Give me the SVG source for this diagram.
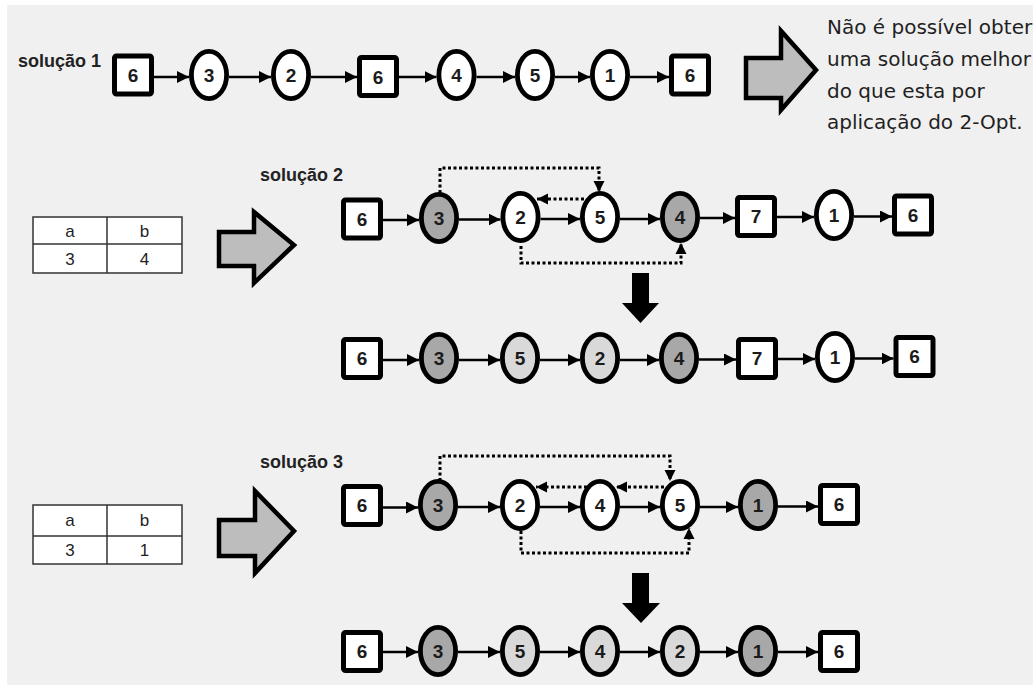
<svg xmlns="http://www.w3.org/2000/svg" width="1033" height="685" viewBox="0 0 1033 685">
<style>
.bg{fill:#f0f0f0}
.c{fill:#fff;stroke:#000;stroke-width:4.8}
.c.dk{fill:#a8a8a8}
.c.lt{fill:#d9d9d9}
.b{fill:#fff;stroke:#000;stroke-width:5}
.n{font-family:"Liberation Sans",Arial,sans-serif;font-weight:bold;font-size:19px;text-anchor:middle;fill:#1b1b1b}
.e{stroke:#000;stroke-width:2.5;fill:none;marker-end:url(#ah)}
.d{stroke:#000;stroke-width:3;fill:none;stroke-dasharray:3 2.5;marker-end:url(#dh)}
.blk{fill:#bdbdbd;stroke:#000;stroke-width:4.5;stroke-linejoin:miter}
.down{fill:#000}
.lbl{font-family:"Liberation Sans",Arial,sans-serif;font-weight:bold;font-size:18px;fill:#222}
.note{font-family:"DejaVu Sans",sans-serif;font-size:20px;fill:#1f1f1f}
.tb{fill:#fff;stroke:#333;stroke-width:1.5}
.tl{stroke:#333;stroke-width:1.5}
.tt{font-family:"Liberation Sans",Arial,sans-serif;font-size:17px;text-anchor:middle;fill:#1f1f1f}
</style>
<defs>
<marker id="ah" markerUnits="userSpaceOnUse" markerWidth="12" markerHeight="12" refX="12" refY="6" orient="auto"><path d="M0,0 L12,6 L0,12 z" fill="#000"/></marker>
<marker id="dh" markerUnits="userSpaceOnUse" markerWidth="12" markerHeight="12" refX="11" refY="6" orient="auto"><path d="M0,0.5 L11,6 L0,11.5 z" fill="#000"/></marker>
</defs>
<rect width="1033" height="685" fill="#fff"/>
<rect class="bg" x="7" y="5" width="1026" height="680"/>

<!-- Solution 1 -->
<text class="lbl" x="18" y="67">solução 1</text>
<g id="s1-n1"><rect class="b" x="114.5" y="56" width="37" height="38" rx="2"/><text class="n" x="133" y="82">6</text></g>
<g id="s1-n2"><ellipse class="c" cx="209" cy="75" rx="17.6" ry="23.6"/><text class="n" x="209" y="82">3</text></g>
<g id="s1-n3"><ellipse class="c" cx="291" cy="75" rx="17.6" ry="23.6"/><text class="n" x="291" y="82">2</text></g>
<g id="s1-n4"><rect class="b" x="359.5" y="57.5" width="37" height="38" rx="2"/><text class="n" x="378" y="84">6</text></g>
<g id="s1-n5"><ellipse class="c" cx="456.5" cy="75" rx="17.6" ry="23.6"/><text class="n" x="456.5" y="82">4</text></g>
<g id="s1-n6"><ellipse class="c" cx="535" cy="75" rx="17.6" ry="23.6"/><text class="n" x="535" y="82">5</text></g>
<g id="s1-n7"><ellipse class="c" cx="610" cy="75" rx="17.6" ry="23.6"/><text class="n" x="610" y="82">1</text></g>
<g id="s1-n8"><rect class="b" x="671.5" y="56" width="37" height="38" rx="2"/><text class="n" x="690" y="82">6</text></g>
<g id="s1-arrow"><polygon class="blk" points="746,58 781,58 781,31 816,70 781,110 781,98 746,98"/></g>
<g id="s1-note">
<text class="note" x="827" y="34">Não é possível obter</text>
<text class="note" x="827" y="66">uma solução melhor</text>
<text class="note" x="827" y="98">do que esta por</text>
<text class="note" x="827" y="129">aplicação do 2-Opt.</text>
</g>

<!-- Solution 2 -->
<text class="lbl" x="260" y="181">solução 2</text>
<g id="s2-table">
<rect class="tb" x="33" y="217" width="149" height="56"/>
<line class="tl" x1="33" y1="244" x2="182" y2="244"/>
<line class="tl" x1="107" y1="217" x2="107" y2="273"/>
<text class="tt" x="70" y="237">a</text><text class="tt" x="144.5" y="237">b</text>
<text class="tt" x="70" y="265">3</text><text class="tt" x="144.5" y="265">4</text>
</g>
<g id="s2-arrow"><polygon class="blk" points="219,232 254,232 254,212 294,245 254,283 254,266 219,266"/></g>

<g id="s2a-n1"><rect class="b" x="343.5" y="200" width="37" height="38" rx="2"/><text class="n" x="362" y="226">6</text></g>
<g id="s2a-n2"><ellipse class="c dk" cx="439" cy="218" rx="17.6" ry="23.6"/><text class="n" x="439" y="225">3</text></g>
<g id="s2a-n3"><ellipse class="c" cx="520.5" cy="217" rx="17.6" ry="23.6"/><text class="n" x="520.5" y="224">2</text></g>
<g id="s2a-n4"><ellipse class="c" cx="600" cy="217" rx="17.6" ry="23.6"/><text class="n" x="600" y="224">5</text></g>
<g id="s2a-n5"><ellipse class="c dk" cx="680" cy="217" rx="17.6" ry="23.6"/><text class="n" x="680" y="224">4</text></g>
<g id="s2a-n6"><rect class="b" x="737.5" y="197.5" width="37" height="38" rx="2"/><text class="n" x="756" y="223">7</text></g>
<g id="s2a-n7"><ellipse class="c" cx="834" cy="215" rx="17.6" ry="23.6"/><text class="n" x="834" y="222">1</text></g>
<g id="s2a-n8"><rect class="b" x="894.5" y="196" width="37" height="38" rx="2"/><text class="n" x="913" y="222">6</text></g>

<g id="s2-down"><polygon class="down" points="632,273 649,273 649,303 659,303 640.5,323 622,303 632,303"/></g>

<g id="s2b-n1"><rect class="b" x="343.5" y="339.5" width="37" height="38" rx="2"/><text class="n" x="362" y="365">6</text></g>
<g id="s2b-n2"><ellipse class="c dk" cx="439" cy="358" rx="17.6" ry="23.6"/><text class="n" x="439" y="365">3</text></g>
<g id="s2b-n3"><ellipse class="c lt" cx="520" cy="358" rx="17.6" ry="23.6"/><text class="n" x="520" y="365">5</text></g>
<g id="s2b-n4"><ellipse class="c lt" cx="600" cy="358" rx="17.6" ry="23.6"/><text class="n" x="600" y="365">2</text></g>
<g id="s2b-n5"><ellipse class="c dk" cx="679" cy="358" rx="17.6" ry="23.6"/><text class="n" x="679" y="365">4</text></g>
<g id="s2b-n6"><rect class="b" x="738.5" y="339.5" width="37" height="38" rx="2"/><text class="n" x="757" y="365">7</text></g>
<g id="s2b-n7"><ellipse class="c" cx="835" cy="357" rx="17.6" ry="23.6"/><text class="n" x="835" y="364">1</text></g>
<g id="s2b-n8"><rect class="b" x="896" y="337.5" width="37" height="38" rx="2"/><text class="n" x="914.5" y="363">6</text></g>

<!-- Solution 3 -->
<text class="lbl" x="260" y="468">solução 3</text>
<g id="s3-table">
<rect class="tb" x="33" y="505" width="149" height="59"/>
<line class="tl" x1="33" y1="536" x2="182" y2="536"/>
<line class="tl" x1="107" y1="505" x2="107" y2="564"/>
<text class="tt" x="70" y="526">a</text><text class="tt" x="144.5" y="526">b</text>
<text class="tt" x="70" y="556">3</text><text class="tt" x="144.5" y="556">1</text>
</g>
<g id="s3-arrow"><polygon class="blk" points="219,520 255,520 255,491 294,531 255,573 255,556 219,556"/></g>

<g id="s3a-n1"><rect class="b" x="343.5" y="486.5" width="37" height="38" rx="2"/><text class="n" x="362" y="512">6</text></g>
<g id="s3a-n2"><ellipse class="c dk" cx="438" cy="505" rx="17.6" ry="23.6"/><text class="n" x="438" y="512">3</text></g>
<g id="s3a-n3"><ellipse class="c" cx="520" cy="505" rx="17.6" ry="23.6"/><text class="n" x="520" y="512">2</text></g>
<g id="s3a-n4"><ellipse class="c" cx="600" cy="505" rx="17.6" ry="23.6"/><text class="n" x="600" y="512">4</text></g>
<g id="s3a-n5"><ellipse class="c" cx="680" cy="505" rx="17.6" ry="23.6"/><text class="n" x="680" y="512">5</text></g>
<g id="s3a-n6"><ellipse class="c dk" cx="758" cy="505" rx="17.6" ry="23.6"/><text class="n" x="758" y="512">1</text></g>
<g id="s3a-n7"><rect class="b" x="820.5" y="485.5" width="37" height="38" rx="2"/><text class="n" x="839" y="511">6</text></g>

<g id="s3-down"><polygon class="down" points="632,573 649,573 649,603 660,603 641,623 622,603 632,603"/></g>

<g id="s3b-n1"><rect class="b" x="343.5" y="632.5" width="37" height="38" rx="2"/><text class="n" x="362" y="658">6</text></g>
<g id="s3b-n2"><ellipse class="c dk" cx="438" cy="651" rx="17.6" ry="23.6"/><text class="n" x="438" y="658">3</text></g>
<g id="s3b-n3"><ellipse class="c lt" cx="520" cy="651" rx="17.6" ry="23.6"/><text class="n" x="520" y="658">5</text></g>
<g id="s3b-n4"><ellipse class="c lt" cx="600" cy="651" rx="17.6" ry="23.6"/><text class="n" x="600" y="658">4</text></g>
<g id="s3b-n5"><ellipse class="c lt" cx="680" cy="651" rx="17.6" ry="23.6"/><text class="n" x="680" y="658">2</text></g>
<g id="s3b-n6"><ellipse class="c dk" cx="758" cy="651" rx="17.6" ry="23.6"/><text class="n" x="758" y="658">1</text></g>
<g id="s3b-n7"><rect class="b" x="820.5" y="632.5" width="37" height="38" rx="2"/><text class="n" x="839" y="658">6</text></g>

<g id="connectors">
<!-- solution 1 -->
<line class="e" x1="154" y1="77" x2="189" y2="77"/>
<line class="e" x1="229" y1="77" x2="271" y2="77"/>
<line class="e" x1="311" y1="77" x2="357" y2="77"/>
<line class="e" x1="399" y1="77" x2="436.5" y2="77"/>
<line class="e" x1="476.5" y1="77" x2="515" y2="77"/>
<line class="e" x1="555" y1="77" x2="590" y2="77"/>
<line class="e" x1="630" y1="77" x2="669" y2="77"/>
<!-- solution 2 top -->
<line class="e" x1="383" y1="220" x2="419" y2="220"/>
<line class="e" x1="459" y1="219.5" x2="500.5" y2="219.5"/>
<line class="e" x1="540.5" y1="219" x2="580" y2="219"/>
<line class="e" x1="620" y1="219" x2="660" y2="219"/>
<line class="e" x1="700" y1="218" x2="735" y2="218"/>
<line class="e" x1="777" y1="217" x2="814" y2="217"/>
<line class="e" x1="854" y1="216.5" x2="892" y2="216.5"/>
<path class="d" d="M440,193 V168 H599 V192"/>
<path class="d" d="M584,199 H537"/>
<path class="d" d="M521,246 V263 H681 V243"/>
<!-- solution 2 bottom -->
<line class="e" x1="383" y1="360" x2="419" y2="360"/>
<line class="e" x1="459" y1="360" x2="500" y2="360"/>
<line class="e" x1="540" y1="360" x2="580" y2="360"/>
<line class="e" x1="620" y1="360" x2="659" y2="360"/>
<line class="e" x1="699" y1="359.5" x2="736" y2="359.5"/>
<line class="e" x1="778" y1="359" x2="815" y2="359"/>
<line class="e" x1="855" y1="358.5" x2="893.5" y2="358.5"/>
<!-- solution 3 top -->
<line class="e" x1="383" y1="507.5" x2="418" y2="507.5"/>
<line class="e" x1="458" y1="507" x2="500" y2="507"/>
<line class="e" x1="540" y1="507" x2="580" y2="507"/>
<line class="e" x1="620" y1="507" x2="660" y2="507"/>
<line class="e" x1="700" y1="507" x2="738" y2="507"/>
<line class="e" x1="778" y1="506.5" x2="818" y2="506.5"/>
<path class="d" d="M440,481 V456 H670 V481"/>
<path class="d" d="M664,487 H616"/>
<path class="d" d="M587,487 H536"/>
<path class="d" d="M521,531 V553 H689 V528"/>
<!-- solution 3 bottom -->
<line class="e" x1="383" y1="652" x2="418" y2="652"/>
<line class="e" x1="458" y1="652" x2="500" y2="652"/>
<line class="e" x1="540" y1="652" x2="580" y2="652"/>
<line class="e" x1="620" y1="652" x2="660" y2="652"/>
<line class="e" x1="700" y1="652" x2="738" y2="652"/>
<line class="e" x1="778" y1="652" x2="818" y2="652"/>
</g>
</svg>
